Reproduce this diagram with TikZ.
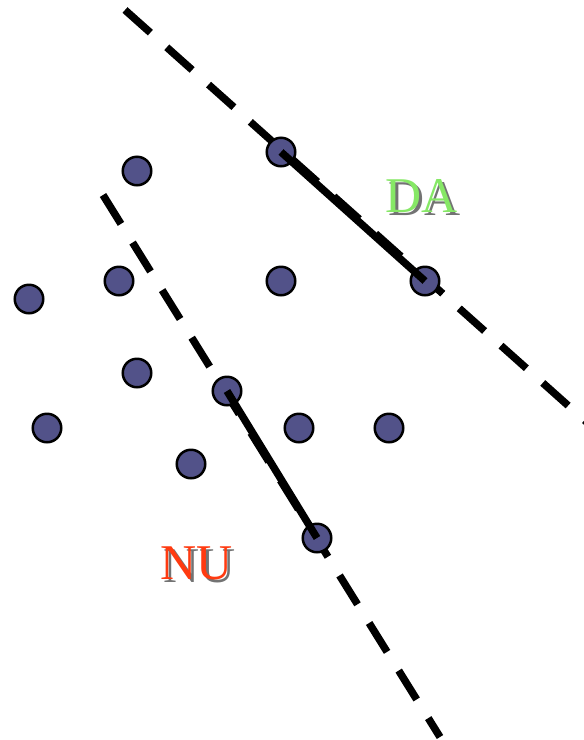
\documentclass[tikz,border=0pt]{standalone}
\usepackage{fontspec}
\setmainfont{Liberation Serif}
\definecolor{dotblue}{HTML}{525289}
\definecolor{dagreen}{HTML}{86E866}
\definecolor{nured}{HTML}{FF3A10}
% text with a grey drop shadow, set as a single box
\newcommand{\shadowtext}[2]{%
  \makebox[0pt][l]{\hspace{3pt}\raisebox{-3pt}{\textcolor{black!55}{#2}}}%
  \textcolor{#1}{#2}}
\begin{document}
\begin{tikzpicture}[x=1pt,y=-1pt,
  pt/.style={circle,draw=black,line width=2.5pt,fill=dotblue,minimum size=28.5pt,inner sep=0pt},
  boundary/.style={line width=7.5pt,dash pattern=on 34pt off 22pt},
  link/.style={line width=7.5pt},
  lbl/.style={font=\fontsize{50}{50}\selectfont,inner sep=0pt}]
\useasboundingbox (0,0) rectangle (584,740);
% dashed separators
\coordinate (d1a) at (125,10);
\coordinate (d1b) at (600,434);
\coordinate (d2a) at (103,195);
\coordinate (d2b) at (440,737);
\draw[boundary] (d1a) -- (d1b);
\draw[boundary] (d2a) -- (d2b);
% points
\node[pt] (p1) at (137,171) {};
\node[pt] (p2) at (281,152) {};
\node[pt] (p3) at (119,281) {};
\node[pt] (p4) at (29,299) {};
\node[pt] (p5) at (281,281) {};
\node[pt] (p6) at (425,281) {};
\node[pt] (p7) at (137,373) {};
\node[pt] (p8) at (227,391) {};
\node[pt] (p9) at (47,428) {};
\node[pt] (p10) at (299,428) {};
\node[pt] (p11) at (389,428) {};
\node[pt] (p12) at (191,464) {};
\node[pt] (p13) at (317,538) {};
% solid links between point centres
\draw[link] (p2.center) -- (p6.center);
\draw[link] (p8.center) -- (p13.center);
% labels
\node[lbl] (da) at (422,198) {\shadowtext{dagreen}{DA}};
\node[lbl] (nu) at (197,565) {\shadowtext{nured}{NU}};
\end{tikzpicture}
\end{document}
